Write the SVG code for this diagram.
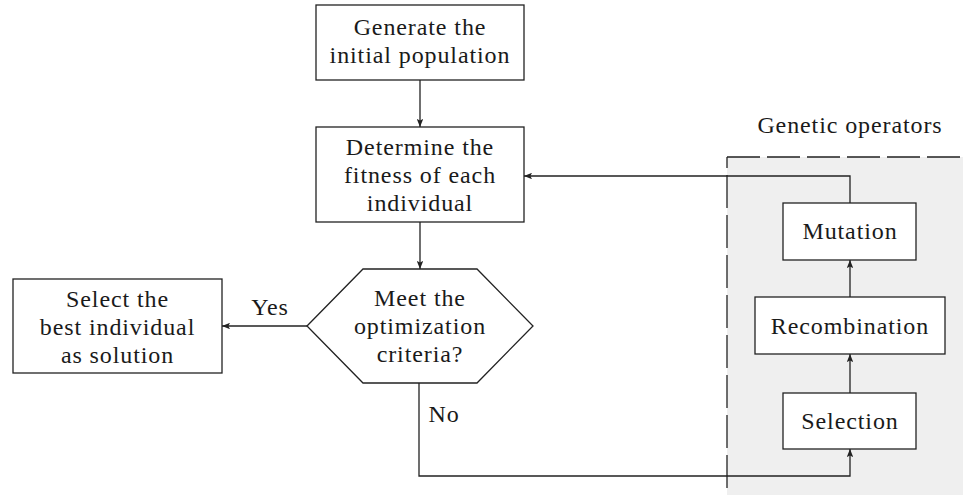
<svg xmlns="http://www.w3.org/2000/svg" width="963" height="495" viewBox="0 0 963 495">
<defs>
<marker id="ah" viewBox="0 0 10 8" refX="10" refY="4" markerWidth="8" markerHeight="6.4" markerUnits="userSpaceOnUse" orient="auto">
<path d="M0,0 L10,4 L0,8 L2,4 Z" fill="#222"/>
</marker>
<style>
.box{fill:#fff;stroke:#222;stroke-width:1.3}
.t{font-size:24px;fill:#1a1a1a;text-anchor:middle}
.c{fill:none;stroke:#222;stroke-width:1.3}
.d{fill:none;stroke:#222;stroke-width:1.3;stroke-dasharray:33 7}
</style>
</defs>
<rect width="963" height="495" fill="#fff"/>
<g font-family="Liberation Serif" letter-spacing="0.9">
<g id="genetic-operators">
<rect x="727" y="157" width="236" height="338" fill="#efefef"/>
<path class="d" d="M727,157 H963"/>
<path class="d" d="M727,157 V495" stroke-dashoffset="22"/>
<text class="t" x="850" y="133">Genetic operators</text>
</g>
<g id="connectors">
<path class="c" d="M420,80 V127" marker-end="url(#ah)"/>
<path class="c" d="M420,222 V269" marker-end="url(#ah)"/>
<path class="c" d="M307,326 H222" marker-end="url(#ah)"/>
<path class="c" d="M419,383 V476 H850 V449" marker-end="url(#ah)"/>
<path class="c" d="M850,393 V354" marker-end="url(#ah)"/>
<path class="c" d="M850,297 V260" marker-end="url(#ah)"/>
<path class="c" d="M850,203 V176 H524" marker-end="url(#ah)"/>
<text class="t" x="270" y="315">Yes</text>
<text class="t" x="444" y="422">No</text>
</g>
<g id="generate">
<rect class="box" x="316" y="5" width="208" height="75"/>
<text class="t" x="420" y="35">Generate the</text>
<text class="t" x="420" y="63">initial population</text>
</g>
<g id="fitness">
<rect class="box" x="316" y="127" width="208" height="95"/>
<text class="t" x="420" y="155">Determine the</text>
<text class="t" x="420" y="183">fitness of each</text>
<text class="t" x="420" y="211">individual</text>
</g>
<g id="criteria">
<polygon class="box" points="307,326 363,269 477,269 533,326 477,383 363,383"/>
<text class="t" x="420" y="306">Meet the</text>
<text class="t" x="420" y="334">optimization</text>
<text class="t" x="420" y="362">criteria?</text>
</g>
<g id="select-best">
<rect class="box" x="13" y="279" width="209" height="94"/>
<text class="t" x="117.5" y="307">Select the</text>
<text class="t" x="117.5" y="335">best individual</text>
<text class="t" x="117.5" y="363">as solution</text>
</g>
<g id="mutation">
<rect class="box" x="783" y="203" width="133" height="57"/>
<text class="t" x="850" y="239">Mutation</text>
</g>
<g id="recombination">
<rect class="box" x="755" y="297" width="190" height="57"/>
<text class="t" x="850" y="334">Recombination</text>
</g>
<g id="selection">
<rect class="box" x="783" y="393" width="133" height="56"/>
<text class="t" x="850" y="429">Selection</text>
</g>
</g>
</svg>
